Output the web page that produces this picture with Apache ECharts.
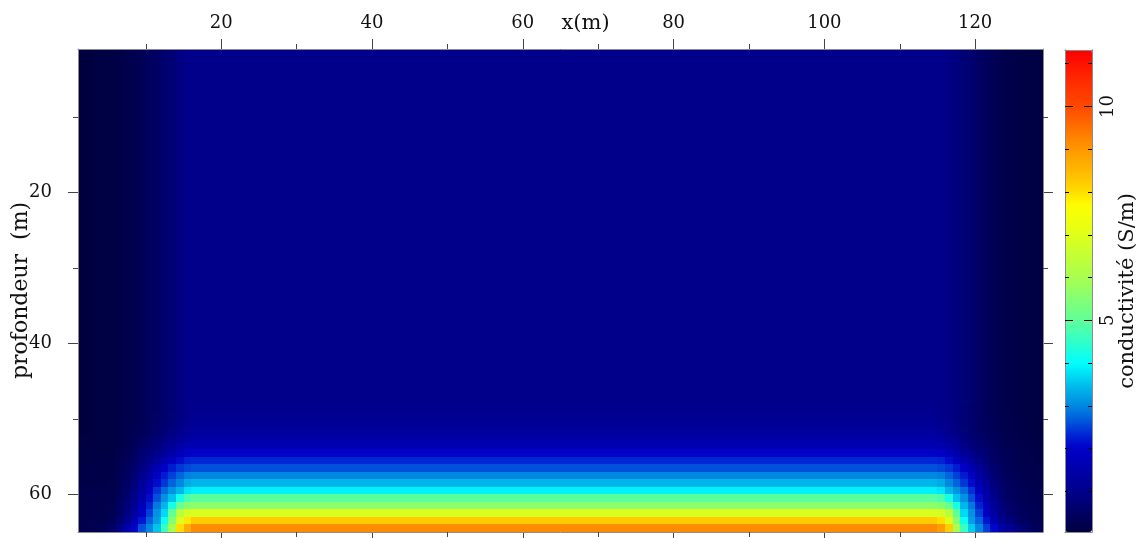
<!DOCTYPE html>
<html><head><meta charset="utf-8">
<script src="https://cdn.jsdelivr.net/npm/echarts@6/dist/echarts.min.js"></script>
<style>html,body{margin:0;padding:0;background:#fff}#c{width:1148px;height:538px}</style>
</head><body><div id="c"></div>
<script>
// ---- axes / ticks ----
const xRange = [1, 129];
const yRange = [1, 65];
const cbarRange = [0.05, 11.32];
const xTickLabels = [20, 40, 60, 80, 100, 120];
const xMinorTicks = [10, 30, 50, 70, 90, 110];
const yTickLabels = [20, 40, 60];
const yMinorTicks = [10, 30, 50];
const cbarTickLabels = [5, 10];
const cbarMinorTicks = [1, 2, 3, 4, 6, 7, 8, 9, 11];

// ---- data (conductivity, S/m) ----
// central columns: one value per depth row (row 0 = top, y 1..2)
const depthProfile = [
  1.0, 1.0, 1.0, 1.0, 1.0, 1.0, 1.0, 1.0, 1.0, 1.0,
  1.0, 1.0, 1.0, 1.0, 1.0, 1.0, 1.0, 1.0, 1.0, 1.0,
  1.0, 1.0, 1.0, 1.0, 1.0, 1.0, 1.0, 1.0, 1.0, 1.0,
  1.0, 1.0, 1.0, 1.0, 1.0, 1.0, 1.0, 1.0, 1.0, 1.0,
  1.0, 1.0, 1.0, 1.0, 1.0, 1.0, 1.0, 1.03, 1.08, 1.15,
  1.25, 1.4, 1.6, 2.0, 2.35, 2.6, 3.0, 3.4, 3.9, 4.95,
  5.6, 6.9, 8.25, 9.15
];
// left edge columns (x 1..17) above row 47
const leftTop = [0.05, 0.05, 0.08, 0.1, 0.12, 0.15, 0.22, 0.25, 0.3, 0.42, 0.5, 0.62, 0.72, 0.85, 0.97, 1.0];
// right edge columns (x 113..129) above row 47
const rightTop = [1.0, 1.0, 0.97, 0.9, 0.82, 0.74, 0.62, 0.5, 0.4, 0.3, 0.23, 0.18, 0.15, 0.12, 0.1, 0.08];
const cornerFirstRow = 47;
// left bottom corner, rows 47..63, columns x 1..17
const leftCornerRows = [
  [0.05,0.05,0.08,0.1,0.12,0.15,0.22,0.25,0.3,0.42,0.5,0.62,0.73,0.86,0.98,1.03],
  [0.05,0.05,0.08,0.1,0.12,0.15,0.22,0.25,0.31,0.43,0.51,0.63,0.74,0.88,1.0,1.08],
  [0.05,0.05,0.08,0.1,0.12,0.15,0.23,0.26,0.32,0.44,0.52,0.65,0.77,0.92,1.05,1.15],
  [0.06,0.06,0.08,0.1,0.12,0.16,0.24,0.28,0.35,0.47,0.57,0.7,0.85,1.0,1.15,1.25],
  [0.07,0.07,0.09,0.1,0.12,0.17,0.25,0.32,0.42,0.55,0.65,0.8,0.95,1.15,1.3,1.4],
  [0.08,0.08,0.1,0.11,0.13,0.18,0.27,0.38,0.5,0.65,0.8,1.0,1.2,1.4,1.55,1.6],
  [0.1,0.1,0.11,0.12,0.14,0.2,0.3,0.45,0.65,0.8,0.95,1.2,1.45,1.75,1.95,2.0],
  [0.12,0.12,0.13,0.14,0.15,0.22,0.35,0.5,0.75,0.95,1.25,1.6,1.85,2.1,2.3,2.35],
  [0.15,0.15,0.15,0.16,0.17,0.25,0.4,0.6,0.85,1.2,1.6,1.95,2.25,2.45,2.55,2.6],
  [0.17,0.17,0.17,0.17,0.18,0.28,0.45,0.7,1.05,1.4,1.9,2.25,2.5,2.75,2.95,3.0],
  [0.18,0.18,0.18,0.18,0.19,0.3,0.5,0.8,1.2,1.6,2.1,2.45,2.75,3.0,3.3,3.4],
  [0.2,0.2,0.2,0.2,0.2,0.35,0.55,0.9,1.35,1.85,2.4,2.8,3.1,3.4,3.8,3.9],
  [0.2,0.2,0.2,0.2,0.22,0.4,0.65,1.05,1.5,2.1,2.6,3.1,3.5,4.2,4.8,4.95],
  [0.2,0.2,0.2,0.2,0.28,0.45,0.75,1.2,1.7,2.3,2.9,3.4,4.2,5.1,5.5,5.6],
  [0.2,0.2,0.2,0.2,0.3,0.5,0.85,1.3,1.9,2.5,3.1,3.7,5.0,6.3,6.8,6.9],
  [0.2,0.2,0.2,0.22,0.35,0.65,1.05,1.65,2.2,2.75,3.2,4.1,5.5,6.9,7.9,8.25],
  [0.2,0.25,0.3,0.35,0.55,0.85,1.5,2.0,2.6,3.0,3.55,4.6,6.0,8.0,8.7,9.15]
];
// right bottom corner, rows 47..63, columns x 113..129
const rightCornerRows = [
  [1.03,1.03,0.98,0.91,0.82,0.73,0.61,0.49,0.38,0.3,0.23,0.18,0.15,0.12,0.1,0.08],
  [1.08,1.08,1.0,0.92,0.83,0.72,0.6,0.48,0.38,0.3,0.24,0.19,0.15,0.12,0.1,0.08],
  [1.15,1.15,1.06,0.95,0.84,0.72,0.6,0.48,0.39,0.31,0.25,0.2,0.16,0.13,0.11,0.09],
  [1.25,1.25,1.15,1.02,0.88,0.74,0.62,0.5,0.41,0.33,0.27,0.22,0.18,0.14,0.12,0.1],
  [1.4,1.4,1.3,1.15,0.98,0.82,0.68,0.57,0.46,0.37,0.3,0.24,0.2,0.16,0.13,0.11],
  [1.6,1.6,1.55,1.4,1.2,1.0,0.8,0.68,0.55,0.42,0.33,0.27,0.22,0.18,0.15,0.13],
  [2.0,2.0,1.95,1.75,1.45,1.2,0.95,0.8,0.65,0.48,0.36,0.3,0.25,0.2,0.17,0.15],
  [2.35,2.35,2.3,2.1,1.85,1.6,1.25,0.95,0.75,0.55,0.4,0.32,0.27,0.22,0.19,0.17],
  [2.6,2.6,2.55,2.45,2.25,1.95,1.6,1.2,0.85,0.62,0.45,0.35,0.29,0.24,0.21,0.19],
  [3.0,3.0,2.95,2.75,2.5,2.25,1.9,1.4,1.05,0.72,0.5,0.38,0.31,0.26,0.22,0.2],
  [3.4,3.4,3.3,3.0,2.75,2.45,2.1,1.6,1.2,0.8,0.55,0.42,0.34,0.28,0.24,0.22],
  [3.9,3.9,3.8,3.4,3.1,2.8,2.4,1.85,1.35,0.9,0.62,0.45,0.37,0.3,0.26,0.23],
  [4.95,4.95,4.8,4.2,3.5,3.1,2.6,2.1,1.5,1.05,0.7,0.5,0.4,0.33,0.28,0.25],
  [5.6,5.6,5.5,5.1,4.2,3.4,2.9,2.3,1.7,1.2,0.8,0.55,0.45,0.36,0.3,0.26],
  [6.9,6.9,6.8,6.3,5.0,3.7,3.1,2.5,1.9,1.35,0.9,0.65,0.5,0.4,0.32,0.28],
  [8.25,8.25,8.0,7.0,5.5,4.1,3.2,2.75,2.2,1.65,1.1,0.8,0.6,0.45,0.35,0.3],
  [9.15,9.15,8.9,8.2,6.0,4.6,3.6,3.0,2.5,2.05,1.45,1.2,0.85,0.65,0.45,0.35]
];

// ---- colour scale (style) ----
const colorStops = [
  [0.0,'#00003c'],[0.5,'#000064'],[1.0,'#00008c'],[1.5,'#0000aa'],[2.0,'#0000c8'],
  [2.3,'#0020d4'],[2.6,'#0050dc'],[3.0,'#0088e0'],[3.5,'#00c0ec'],[4.0,'#00ffff'],
  [4.5,'#30ffc8'],[5.0,'#60ff98'],[6.0,'#a8ff50'],[7.0,'#e0ff18'],[7.7,'#ffff00'],
  [8.0,'#ffdc00'],[8.5,'#ffb800'],[9.0,'#ff9800'],[9.5,'#ff7000'],[10.0,'#ff4800'],
  [10.5,'#ff3000'],[11.32,'#ff0000']
];
function hex(c){return [parseInt(c.slice(1,3),16),parseInt(c.slice(3,5),16),parseInt(c.slice(5,7),16)];}
function colorAt(v){
  for (let i=1;i<colorStops.length;i++){
    if (v<=colorStops[i][0]){
      const a=colorStops[i-1], b=colorStops[i];
      const t=(v-a[0])/(b[0]-a[0]);
      const ca=hex(a[1]), cb=hex(b[1]);
      return 'rgb('+ca.map((x,k)=>Math.round(x+(cb[k]-x)*t)).join(',')+')';
    }
  }
  return colorStops[colorStops.length-1][1];
}
const paletteSteps = 64;
const palette = [];
for (let i=0;i<paletteSteps;i++){
  palette.push(colorAt(cbarRange[0] + (cbarRange[1]-cbarRange[0])*i/(paletteSteps-1)));
}

// ---- assemble cells ----
const nCols = 128, nRows = 64, edgeW = 16;
const cells = [];
for (let r=0;r<nRows;r++){
  for (let c=0;c<nCols;c++){
    let v;
    if (c < edgeW) v = r < cornerFirstRow ? leftTop[c] : leftCornerRows[r-cornerFirstRow][c];
    else if (c >= nCols-edgeW) v = r < cornerFirstRow ? rightTop[c-(nCols-edgeW)] : rightCornerRows[r-cornerFirstRow][c-(nCols-edgeW)];
    else v = depthProfile[r];
    cells.push([xRange[0]+c, yRange[0]+r, v]);
  }
}

const FONT = 'DejaVu Serif';
const tickCol = '#444';
const frameCol = '#8a8a8a';
const plot = {left:78, top:49, width:965, height:483, outerBoundsMode:'none', containLabel:false};
const cbar = {left:1065, top:50, width:27, height:482, outerBoundsMode:'none', containLabel:false};

function xAx(grid, pos, ticks, len, extra){
  return Object.assign({
    gridIndex:grid, type:'value', position:pos, min:xRange[0], max:xRange[1],
    splitLine:{show:false}, axisLine:{show:false}, nameMoveOverlap:false,
    axisTick:{show:true, customValues:ticks, length:len, lineStyle:{color:tickCol,width:1}},
    axisLabel:{show:false}
  }, extra||{});
}
function yAx(grid, pos, ticks, len, extra){
  return Object.assign({
    gridIndex:grid, type:'value', position:pos, inverse:true, min:yRange[0], max:yRange[1],
    splitLine:{show:false}, axisLine:{show:false}, nameMoveOverlap:false,
    axisTick:{show:true, customValues:ticks, length:len, lineStyle:{color:tickCol,width:1}},
    axisLabel:{show:false}
  }, extra||{});
}
function cbAx(grid, pos, ticks, len, extra){
  return Object.assign({
    gridIndex:grid, type:'value', position:pos, min:cbarRange[0], max:cbarRange[1], z:10,
    splitLine:{show:false}, axisLine:{show:true, lineStyle:{color:frameCol,width:1}}, nameMoveOverlap:false,
    axisTick:{show:true, inside:true, customValues:ticks, length:len, lineStyle:{color:'#000',width:1}},
    axisLabel:{show:false}
  }, extra||{});
}
const frameLine = {show:true, lineStyle:{color:frameCol, width:1}};

const option = {
  animation:false,
  backgroundColor:'#fff',
  grid:[
    Object.assign({}, plot),
    Object.assign({}, plot),
    Object.assign({}, cbar),
    Object.assign({}, cbar)
  ],
  xAxis:[
    xAx(0,'top',xTickLabels,10,{
      axisLabel:{show:true, customValues:xTickLabels, margin:17, fontFamily:FONT, fontSize:18, color:'#111'},
      name:'x(m)', nameLocation:'middle', nameGap:15,
      nameTextStyle:{fontFamily:FONT, fontSize:21, color:'#111', padding:[0,0,0,50]}
    }),
    xAx(0,'bottom',xTickLabels,10),
    xAx(1,'top',xMinorTicks,5,{axisLine:frameLine, z:10}),
    xAx(1,'bottom',xMinorTicks,5,{axisLine:frameLine, z:10}),
    {gridIndex:2, type:'value', position:'bottom', min:0, max:1, z:10, axisLine:frameLine, axisTick:{show:false}, axisLabel:{show:false}, splitLine:{show:false}},
    {gridIndex:3, type:'value', position:'top', min:0, max:1, z:10, axisLine:frameLine, axisTick:{show:false}, axisLabel:{show:false}, splitLine:{show:false}}
  ],
  yAxis:[
    yAx(0,'left',yTickLabels,10,{
      axisLabel:{show:true, customValues:yTickLabels, margin:26, fontFamily:FONT, fontSize:18, color:'#111'},
      name:'profondeur  (m)', nameLocation:'middle', nameGap:46, nameRotate:90,
      nameTextStyle:{fontFamily:FONT, fontSize:22, color:'#111'}
    }),
    yAx(0,'right',yTickLabels,10),
    yAx(1,'left',yMinorTicks,5,{axisLine:frameLine, z:10}),
    yAx(1,'right',yMinorTicks,5,{axisLine:frameLine, z:10}),
    cbAx(2,'left',cbarMinorTicks,4),
    cbAx(2,'right',cbarMinorTicks,4),
    cbAx(3,'left',cbarTickLabels,8),
    cbAx(3,'right',cbarTickLabels,8,{
      axisLabel:{show:true, customValues:cbarTickLabels, rotate:90, margin:7, fontFamily:FONT, fontSize:18, color:'#111'},
      name:'conductivité (S/m)', nameLocation:'middle', nameGap:25, nameRotate:90,
      nameTextStyle:{fontFamily:FONT, fontSize:21, color:'#111'}
    })
  ],
  visualMap:{
    type:'continuous', show:true, seriesIndex:0, dimension:2,
    min:cbarRange[0], max:cbarRange[1], calculable:false, hoverLink:false,
    orient:'vertical', left:cbar.left, top:cbar.top, padding:0,
    itemWidth:cbar.width, itemHeight:cbar.height,
    inRange:{color:palette}
  },
  series:[{
    type:'custom', xAxisIndex:0, yAxisIndex:0, progressive:0,
    dimensions:['x','y','sigma'], encode:{x:0, y:1},
    data:cells,
    renderItem:function(params, api){
      const x = api.value(0), y = api.value(1);
      const p0 = api.coord([x, y]);
      const p1 = api.coord([x+1, y+1]);
      const x0 = Math.round(Math.min(p0[0],p1[0])), x1 = Math.round(Math.max(p0[0],p1[0]));
      const y0 = Math.round(Math.min(p0[1],p1[1])), y1 = Math.round(Math.max(p0[1],p1[1]));
      return {
        type:'rect',
        shape:{x:x0, y:y0, width:x1-x0, height:y1-y0},
        style:{fill:api.visual('color')}
      };
    }
  }]
};
const chart = echarts.init(document.getElementById('c'), null, {renderer:'canvas'});
chart.setOption(option);
</script></body></html>
